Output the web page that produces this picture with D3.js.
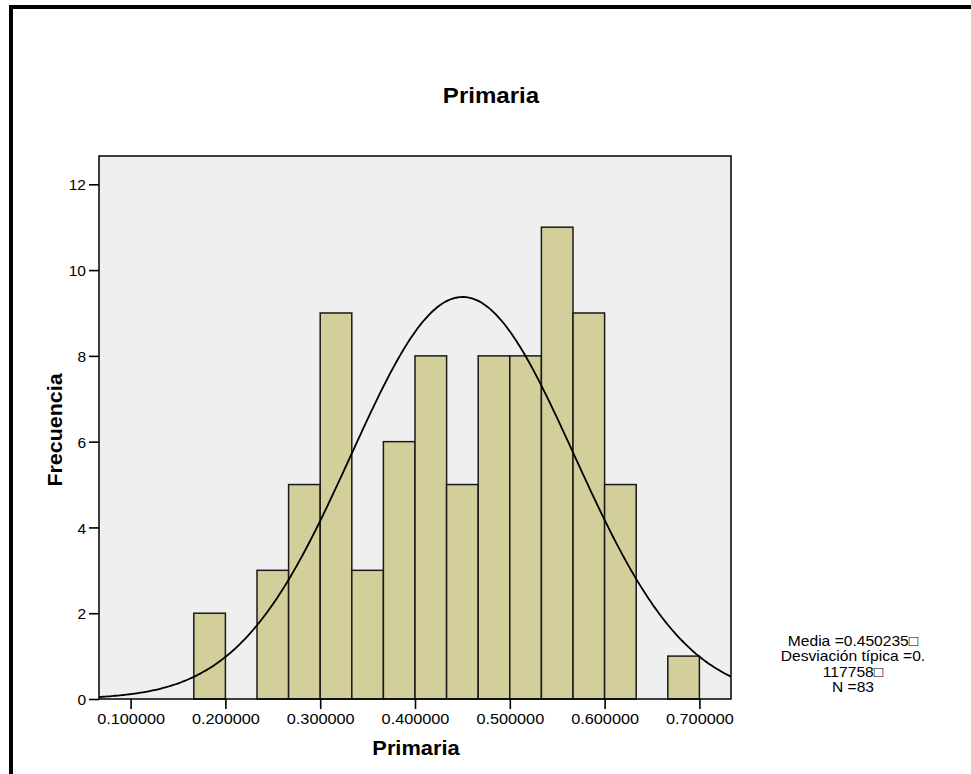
<!DOCTYPE html>
<html>
<head>
<meta charset="utf-8">
<script src="https://cdn.jsdelivr.net/npm/d3@7"></script>
<style>
  html, body { margin: 0; padding: 0; background: #fff; }
  svg { display: block; font-family: "Liberation Sans", Arial, sans-serif; }
</style>
</head>
<body>
<svg id="chart" width="971" height="774"></svg>
<script>
// Histogram of "Primaria" with a fitted normal curve
const binStart = 0.7 - 16 / 30;          // left edge of the first bin
const binWidth = 1 / 30;
const counts = [2, 0, 3, 5, 9, 3, 6, 8, 5, 8, 8, 11, 9, 5, 0, 1];
const xTicks = [0.1, 0.2, 0.3, 0.4, 0.5, 0.6, 0.7];
const yTicks = [0, 2, 4, 6, 8, 10, 12];
const mean = 0.450235;
const sd = 0.117758;
const n = 83;
const legendLines = ["Media =0.450235\u25A1", "Desviación típica =0.", "117758\u25A1", "N =83"];
const titleText = "Primaria";
const xLabel = "Primaria";
const yLabel = "Frecuencia";

const svg = d3.select("#chart");
const plot = { left: 99, top: 156, right: 731, bottom: 699 };

const x = d3.scaleLinear()
  .domain([0.7 - 19 / 30, 0.7 + 1 / 30])
  .range([plot.left, plot.right]);
const y = d3.scaleLinear()
  .domain([0, 12.66])
  .range([plot.bottom, plot.top]);

// text stretched horizontally a little, as the original export renders it
function wideText(sel, px, py, sx, rot) {
  sel.attr("transform", `translate(${px},${py})${rot ? ` rotate(${rot})` : ""} scale(${sx},1)`);
  return sel;
}

// page frame (top and left edges visible)
svg.append("rect")
  .attr("x", 11).attr("y", 7)
  .attr("width", 1000).attr("height", 800)
  .attr("fill", "none").attr("stroke", "#000").attr("stroke-width", 4);

// plot background
svg.append("rect")
  .attr("x", plot.left).attr("y", plot.top)
  .attr("width", plot.right - plot.left).attr("height", plot.bottom - plot.top)
  .attr("fill", "#efefef");

svg.append("defs").append("clipPath").attr("id", "clip")
  .append("rect")
  .attr("x", plot.left).attr("y", plot.top)
  .attr("width", plot.right - plot.left).attr("height", plot.bottom - plot.top);

// bars
const bins = counts.map((c, i) => ({ x0: binStart + i * binWidth, x1: binStart + (i + 1) * binWidth, c }));
svg.append("g").selectAll("rect")
  .data(bins.filter(d => d.c > 0))
  .join("rect")
  .attr("x", d => x(d.x0))
  .attr("y", d => y(d.c))
  .attr("width", d => x(d.x1) - x(d.x0))
  .attr("height", d => y(0) - y(d.c))
  .attr("fill", "#d3cf9a")
  .attr("stroke", "#1a1a1a")
  .attr("stroke-width", 1.5);

// normal curve scaled to counts
const dom = x.domain();
const pts = d3.range(0, 301).map(i => {
  const v = dom[0] + (dom[1] - dom[0]) * i / 300;
  const z = (v - mean) / sd;
  return [v, n * binWidth * Math.exp(-0.5 * z * z) / (sd * Math.sqrt(2 * Math.PI))];
});
svg.append("path")
  .datum(pts)
  .attr("clip-path", "url(#clip)")
  .attr("fill", "none")
  .attr("stroke", "#000")
  .attr("stroke-width", 1.8)
  .attr("d", d3.line().x(d => x(d[0])).y(d => y(d[1])).curve(d3.curveBasis));

// plot frame
svg.append("rect")
  .attr("x", plot.left).attr("y", plot.top)
  .attr("width", plot.right - plot.left).attr("height", plot.bottom - plot.top)
  .attr("fill", "none").attr("stroke", "#000").attr("stroke-width", 1.5);

// axes
const xAxis = svg.append("g")
  .attr("transform", `translate(0,${plot.bottom})`)
  .call(d3.axisBottom(x).tickValues(xTicks).tickFormat(d3.format(".6f")).tickSize(10).tickSizeOuter(0));
const yAxis = svg.append("g")
  .attr("transform", `translate(${plot.left},0)`)
  .call(d3.axisLeft(y).tickValues(yTicks).tickFormat(d3.format("d")).tickSize(10).tickSizeOuter(0));
[xAxis, yAxis].forEach(g => {
  g.select(".domain").remove();
  g.selectAll(".tick line").attr("stroke", "#000").attr("stroke-width", 1.6);
  g.selectAll(".tick text")
    .attr("fill", "#000")
    .attr("font-family", "'Liberation Sans', Arial, sans-serif")
    .attr("font-size", 15.5);
});
xAxis.selectAll(".tick text").attr("dy", null).attr("y", null)
  .each(function () { wideText(d3.select(this), 0, 25, 1.05); });
yAxis.selectAll(".tick text").attr("x", -13).attr("dy", "0.36em");

// title
wideText(svg.append("text"), 491, 103, 1.12)
  .attr("text-anchor", "middle")
  .attr("font-size", 21.5).attr("font-weight", "bold")
  .text(titleText);

// axis titles
wideText(svg.append("text"), 416, 755, 1.12)
  .attr("text-anchor", "middle")
  .attr("font-size", 19.5).attr("font-weight", "bold")
  .text(xLabel);
wideText(svg.append("text"), 62, 430, 1.1, -90)
  .attr("text-anchor", "middle")
  .attr("font-size", 19.5).attr("font-weight", "bold")
  .text(yLabel);

// statistics legend
svg.append("g").selectAll("text")
  .data(legendLines)
  .join("text")
  .each(function (d, i) { wideText(d3.select(this), 853, 646 + i * 15.3, 1.04); })
  .attr("text-anchor", "middle")
  .attr("font-size", 15)
  .text(d => d);
</script>
</body>
</html>
